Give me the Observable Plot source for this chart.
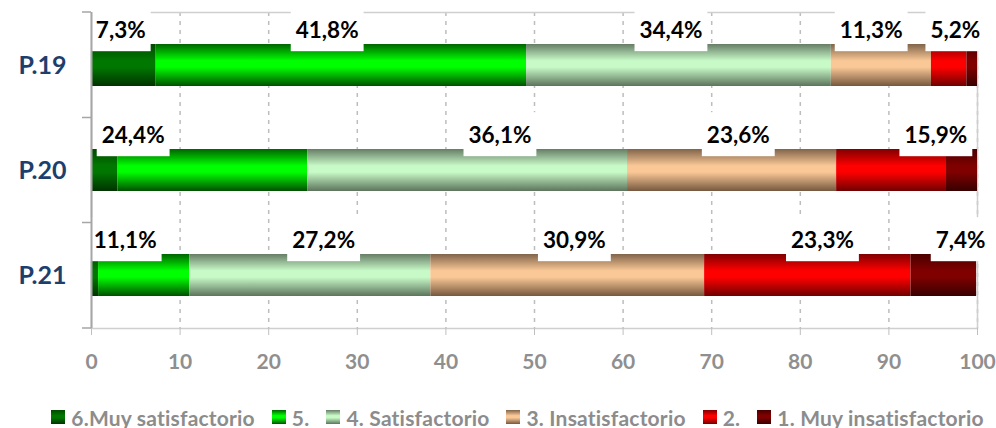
<!DOCTYPE html>
<html>
<head>
<meta charset="utf-8">
<script src="https://cdn.jsdelivr.net/npm/d3@7"></script>
<script src="https://cdn.jsdelivr.net/npm/@observablehq/plot@0.6"></script>
<style>
  body { margin: 0; background: #fff; font-family: Lato, sans-serif; }
  #legend { display: flex; justify-content: center; align-items: center; height: 22px; padding-top: 6px;
            padding-left: 56px; font: bold 21px Lato, sans-serif; letter-spacing: 0.2px; color: #8c8c8c; white-space: nowrap; }
  #legend .item { display: flex; align-items: center; margin-right: 17px; }
  #legend .sw { width: 14px; height: 14px; margin-right: 6px; display: inline-block; }
</style>
</head>
<body>
<div id="chart"></div>
<div id="legend"></div>
<script>
// ---- data ----
const categories = ["P.19", "P.20", "P.21"];
const series = ["6.Muy satisfactorio", "5.", "4. Satisfactorio", "3. Insatisfactorio", "2.", "1. Muy insatisfactorio"];
const valuesP19 = [7.3, 41.8, 34.4, 11.3, 4.0, 1.2];
const valuesP20 = [3.0, 21.4, 36.1, 23.6, 12.4, 3.5];
const valuesP21 = [0.8, 10.3, 27.2, 30.9, 23.3, 7.4];
const labelsP19 = ["7,3%", "41,8%", "34,4%", "11,3%", "5,2%"];
const labelsP20 = ["24,4%", "36,1%", "23,6%", "15,9%"];
const labelsP21 = ["11,1%", "27,2%", "30,9%", "23,3%", "7,4%"];
const labelAtP19 = [3.3, 26.6, 65.4, 88.0, 97.5];
const labelAtP20 = [4.7, 46.1, 73.0, 95.3];
const labelAtP21 = [3.8, 26.2, 54.5, 82.5, 98.1];
const xTicks = [0, 10, 20, 30, 40, 50, 60, 70, 80, 90, 100];

// ---- styles ----
const gradients = [
  ["#004a00", "#007800", "#003300"],
  ["#006400", "#00ff00", "#005000"],
  ["#667d66", "#c8fac8", "#5c745c"],
  ["#80644a", "#fac896", "#76583f"],
  ["#800000", "#ff0000", "#700000"],
  ["#4a0000", "#800000", "#380000"]
];

// ---- tidy tables ----
const valueSets = [valuesP19, valuesP20, valuesP21];
const rows = categories.flatMap((cat, i) => series.map((s, j) => ({cat, series: s, value: valueSets[i][j]})));
const labelSets = [[labelsP19, labelAtP19], [labelsP20, labelAtP20], [labelsP21, labelAtP21]];
const labelRows = categories.flatMap((cat, i) => labelSets[i][0].map((t, k) => ({cat, label: t, at: labelSets[i][1][k]})));
const allLabels = new Set(labelRows.map(d => d.label));

const chart = Plot.plot({
  width: 996,
  height: 400,
  marginLeft: 91,
  marginRight: 19,
  marginTop: 12,
  marginBottom: 72,
  style: {fontFamily: "Lato, sans-serif", background: "white", overflow: "visible"},
  x: {domain: [0, 100], label: null},
  y: {domain: categories, paddingInner: 0.6, paddingOuter: 0.3, label: null},
  color: {domain: series, range: series.map((_, i) => `url(#grad${i})`)},
  marks: [
    Plot.ruleX(xTicks.slice(1), {stroke: "#bdbdbd", strokeWidth: 1.5, strokeDasharray: "4,5"}),
    Plot.frame({stroke: "#cfcfcf", strokeWidth: 1.5}),
    Plot.barX(rows, Plot.stackX({x: "value", y: "cat", fill: "series"})),
    Plot.text(labelRows, {x: "at", y: "cat", text: "label", dy: -35, fontSize: 22.5, fontWeight: "bold",
                          fill: "black"}),
    Plot.ruleX([0], {stroke: "#a6a6a6", strokeWidth: 2}),
    Plot.axisX(xTicks, {tickSize: 7, tickPadding: 19, stroke: "#bfbfbf", fill: "#8f8f8f",
                        fontSize: 21, fontWeight: "bold", label: null}),
    Plot.axisY({tickSize: 0, tickPadding: 25, fill: "#1c3f6e", fontSize: 25, fontWeight: "bold", label: null})
  ]
});

document.getElementById("chart").appendChild(chart);

// gradients
const svgSel = d3.select(chart);
const defs = svgSel.insert("defs", ":first-child");
gradients.forEach(([c0, c1, c2], i) => {
  const g = defs.append("linearGradient").attr("id", `grad${i}`)
    .attr("x1", 0).attr("y1", 0).attr("x2", 0).attr("y2", 1);
  g.append("stop").attr("offset", "0%").attr("stop-color", c0);
  g.append("stop").attr("offset", "40%").attr("stop-color", c1);
  g.append("stop").attr("offset", "55%").attr("stop-color", c1);
  g.append("stop").attr("offset", "100%").attr("stop-color", c2);
});

// white boxes behind data labels
svgSel.selectAll("text").filter(function () {
  return allLabels.has(this.textContent) && !this.closest('g[aria-label*="axis"]');
}).each(function () {
  const b = this.getBBox();
  const cy = b.y + b.height / 2;
  const r = document.createElementNS("http://www.w3.org/2000/svg", "rect");
  r.setAttribute("x", b.x - 5);
  r.setAttribute("width", b.width + 10);
  r.setAttribute("y", cy - 22);
  r.setAttribute("height", 44);
  r.setAttribute("fill", "white");
  const tf = this.getAttribute("transform");
  if (tf) r.setAttribute("transform", tf);
  this.parentNode.insertBefore(r, this);
});

// category boundary ticks on the left axis
const ys = chart.scale("y");
const bw = ys.bandwidth;
const starts = categories.map(c => ys.apply(c));
const yTop = 12, yBottom = 400 - 72;
const bounds = [yTop];
for (let i = 0; i < starts.length - 1; i++) bounds.push((starts[i] + bw + starts[i + 1]) / 2);
bounds.push(yBottom);
const tg = svgSel.append("g");
bounds.forEach(b => {
  tg.append("line").attr("x1", 82).attr("x2", 91).attr("y1", b).attr("y2", b)
    .attr("stroke", "#a6a6a6").attr("stroke-width", 1.5);
});

// legend
const legend = d3.select("#legend");
series.forEach((s, i) => {
  const [c0, c1, c2] = gradients[i];
  const it = legend.append("span").attr("class", "item");
  it.append("span").attr("class", "sw")
    .style("background", `linear-gradient(to bottom, ${c0} 0%, ${c1} 40%, ${c1} 55%, ${c2} 100%)`);
  it.append("span").text(s);
});
</script>
</body>
</html>
